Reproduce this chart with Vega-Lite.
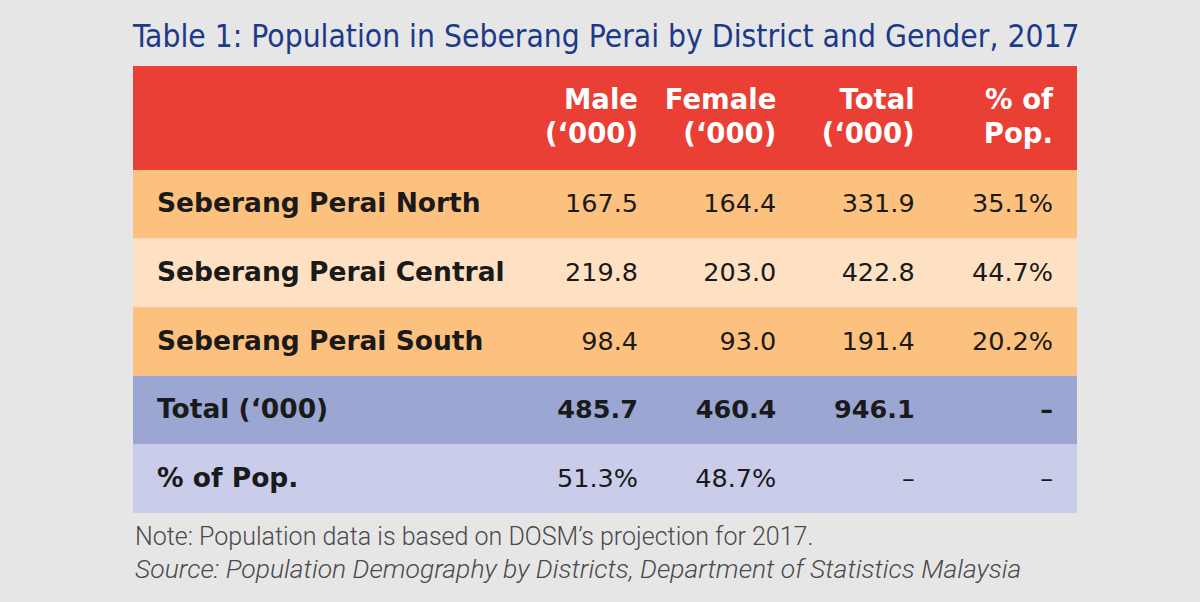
{
  "$schema": "https://vega.github.io/schema/vega-lite/v6.json",
  "width": 1200,
  "height": 602,
  "autosize": {"type": "none"},
  "padding": 0,
  "background": "#e6e6e6",
  "config": {"view": {"stroke": null}},
  "datasets": {
    "table": [
      {"row": "Seberang Perai North", "Male": "167.5", "Female": "164.4", "Total": "331.9", "Pct": "35.1%"},
      {"row": "Seberang Perai Central", "Male": "219.8", "Female": "203.0", "Total": "422.8", "Pct": "44.7%"},
      {"row": "Seberang Perai South", "Male": "98.4", "Female": "93.0", "Total": "191.4", "Pct": "20.2%"},
      {"row": "Total (‘000)", "Male": "485.7", "Female": "460.4", "Total": "946.1", "Pct": "–"},
      {"row": "% of Pop.", "Male": "51.3%", "Female": "48.7%", "Total": "–", "Pct": "–"}
    ],
    "headers": [
      {"col": "Male", "label": "Male\n(‘000)"},
      {"col": "Female", "label": "Female\n(‘000)"},
      {"col": "Total", "label": "Total\n(‘000)"},
      {"col": "Pct", "label": "% of\nPop."}
    ],
    "title": [{"kind": "title", "text": "Table 1: Population in Seberang Perai by District and  Gender, 2017"}],
    "notes": [
      {"kind": "note", "text": "Note: Population data is based on DOSM’s projection for 2017."},
      {"kind": "source", "text": "Source: Population Demography by Districts, Department of Statistics  Malaysia"}
    ]
  },
  "resolve": {"scale": {"x": "independent", "y": "independent", "color": "independent"}},
  "layer": [
    {
      "data": {"name": "title"},
      "mark": {"type": "text", "align": "left", "baseline": "alphabetic", "font": "DejaVu Sans Condensed", "fontSize": 31.5, "fontWeight": "normal", "color": "#1d3a8a"},
      "encoding": {
        "x": {"datum": "left", "type": "nominal", "scale": {"type": "point", "domain": ["left"], "range": [133, 133]}, "axis": null},
        "y": {"field": "kind", "type": "nominal", "scale": {"type": "point", "domain": ["title"], "range": [47, 47]}, "axis": null},
        "text": {"field": "text"}
      }
    },
    {
      "data": {"name": "headers"},
      "mark": {"type": "rect", "color": "#ea3f35"},
      "encoding": {
        "x": {"datum": "table", "type": "nominal", "scale": {"type": "band", "domain": ["table"], "range": [133, 1077], "paddingInner": 0, "paddingOuter": 0}, "axis": null},
        "y": {"datum": "header", "type": "nominal", "scale": {"type": "band", "domain": ["header"], "range": [66, 170], "paddingInner": 0, "paddingOuter": 0}, "axis": null}
      }
    },
    {
      "data": {"name": "headers"},
      "mark": {"type": "text", "align": "right", "baseline": "middle", "dy": -17, "lineBreak": "\n", "lineHeight": 34, "font": "DejaVu Sans", "fontSize": 27.5, "fontWeight": "bold", "color": "#ffffff"},
      "encoding": {
        "x": {"field": "col", "type": "nominal", "scale": {"type": "point", "domain": ["Male", "Female", "Total", "Pct"], "range": [638, 1053], "padding": 0}, "axis": null},
        "y": {"datum": "header", "type": "nominal", "scale": {"type": "band", "domain": ["header"], "range": [66, 170], "paddingInner": 0, "paddingOuter": 0}, "axis": null},
        "text": {"field": "label"}
      }
    },
    {
      "data": {"name": "table"},
      "mark": {"type": "rect"},
      "encoding": {
        "x": {"datum": "table", "type": "nominal", "scale": {"type": "band", "domain": ["table"], "range": [133, 1077], "paddingInner": 0, "paddingOuter": 0}, "axis": null},
        "y": {"field": "row", "type": "nominal", "scale": {"type": "band", "domain": ["Seberang Perai North", "Seberang Perai Central", "Seberang Perai South", "Total (‘000)", "% of Pop."], "range": [170, 513], "paddingInner": 0, "paddingOuter": 0}, "axis": null},
        "color": {"field": "row", "type": "nominal", "scale": {"domain": ["Seberang Perai North", "Seberang Perai Central", "Seberang Perai South", "Total (‘000)", "% of Pop."], "range": ["#fdc17f", "#fee1c2", "#fdc17f", "#9ba6d3", "#c9cdea"]}, "legend": null}
      }
    },
    {
      "data": {"name": "table"},
      "mark": {"type": "text", "align": "left", "baseline": "middle", "font": "DejaVu Sans", "fontSize": 26.5, "fontWeight": "bold", "color": "#1a1a1a"},
      "encoding": {
        "x": {"datum": "label", "type": "nominal", "scale": {"type": "point", "domain": ["label"], "range": [157, 157]}, "axis": null},
        "y": {"field": "row", "type": "nominal", "scale": {"type": "band", "domain": ["Seberang Perai North", "Seberang Perai Central", "Seberang Perai South", "Total (‘000)", "% of Pop."], "range": [170, 513], "paddingInner": 0, "paddingOuter": 0}, "axis": null},
        "text": {"field": "row"}
      }
    },
    {
      "data": {"name": "table"},
      "transform": [
        {"filter": "datum.row !== 'Total (‘000)'"},
        {"fold": ["Male", "Female", "Total", "Pct"], "as": ["col", "value"]}
      ],
      "mark": {"type": "text", "align": "right", "baseline": "middle", "font": "DejaVu Sans", "fontSize": 25.5, "fontWeight": "normal", "color": "#1a1a1a"},
      "encoding": {
        "x": {"field": "col", "type": "nominal", "scale": {"type": "point", "domain": ["Male", "Female", "Total", "Pct"], "range": [638, 1053], "padding": 0}, "axis": null},
        "y": {"field": "row", "type": "nominal", "scale": {"type": "band", "domain": ["Seberang Perai North", "Seberang Perai Central", "Seberang Perai South", "Total (‘000)", "% of Pop."], "range": [170, 513], "paddingInner": 0, "paddingOuter": 0}, "axis": null},
        "text": {"field": "value"}
      }
    },
    {
      "data": {"name": "table"},
      "transform": [
        {"filter": "datum.row === 'Total (‘000)'"},
        {"fold": ["Male", "Female", "Total", "Pct"], "as": ["col", "value"]}
      ],
      "mark": {"type": "text", "align": "right", "baseline": "middle", "font": "DejaVu Sans", "fontSize": 25.5, "fontWeight": "bold", "color": "#1a1a1a"},
      "encoding": {
        "x": {"field": "col", "type": "nominal", "scale": {"type": "point", "domain": ["Male", "Female", "Total", "Pct"], "range": [638, 1053], "padding": 0}, "axis": null},
        "y": {"field": "row", "type": "nominal", "scale": {"type": "band", "domain": ["Seberang Perai North", "Seberang Perai Central", "Seberang Perai South", "Total (‘000)", "% of Pop."], "range": [170, 513], "paddingInner": 0, "paddingOuter": 0}, "axis": null},
        "text": {"field": "value"}
      }
    },
    {
      "data": {"name": "notes"},
      "transform": [{"filter": "datum.kind === 'note'"}],
      "mark": {"type": "text", "align": "left", "baseline": "alphabetic", "font": "Roboto", "fontSize": 25, "fontWeight": 300, "color": "#4a4a4a"},
      "encoding": {
        "x": {"datum": "left", "type": "nominal", "scale": {"type": "point", "domain": ["left"], "range": [135, 135]}, "axis": null},
        "y": {"field": "kind", "type": "nominal", "scale": {"type": "point", "domain": ["note", "source"], "range": [545, 578], "padding": 0}, "axis": null},
        "text": {"field": "text"}
      }
    },
    {
      "data": {"name": "notes"},
      "transform": [{"filter": "datum.kind === 'source'"}],
      "mark": {"type": "text", "align": "left", "baseline": "alphabetic", "font": "Roboto", "fontSize": 26.5, "fontWeight": 300, "fontStyle": "italic", "color": "#4a4a4a"},
      "encoding": {
        "x": {"datum": "left", "type": "nominal", "scale": {"type": "point", "domain": ["left"], "range": [135, 135]}, "axis": null},
        "y": {"field": "kind", "type": "nominal", "scale": {"type": "point", "domain": ["note", "source"], "range": [545, 578], "padding": 0}, "axis": null},
        "text": {"field": "text"}
      }
    }
  ]
}
